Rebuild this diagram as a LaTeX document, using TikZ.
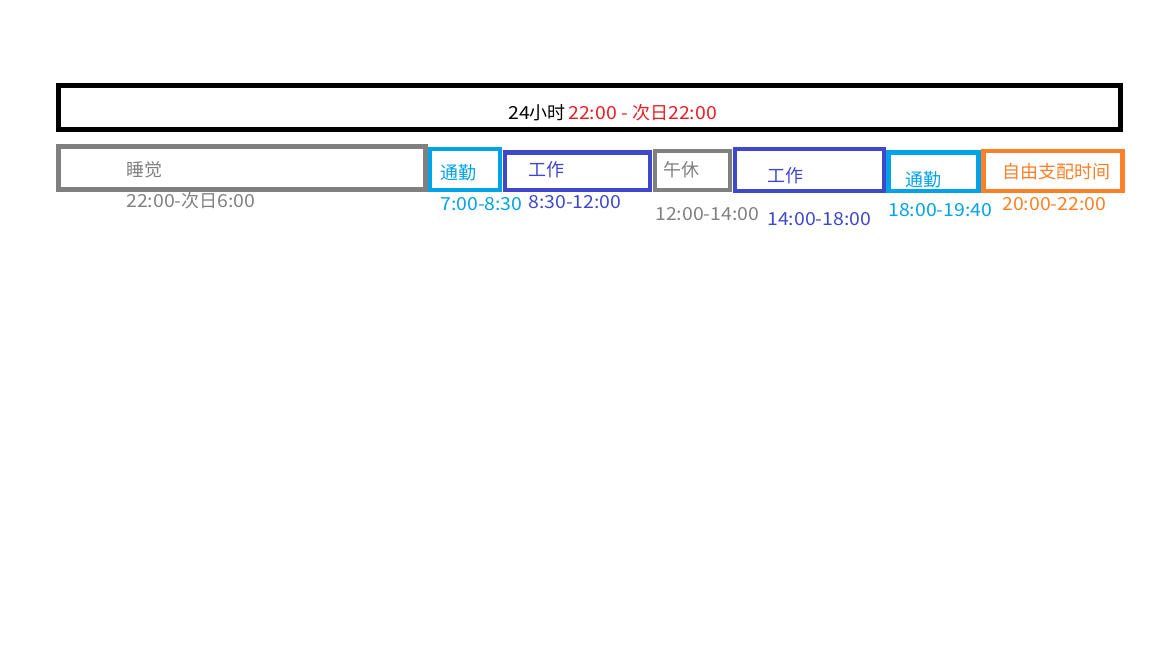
\documentclass[tikz,border=0pt]{standalone}
\usepackage{fontspec}
\setmainfont{Noto Sans CJK SC}
\newfontfamily\numfont{Noto Sans CJK SC}[FakeStretch=1.08]
\newcommand{\hm}[1]{{\numfont #1}}
\usetikzlibrary{positioning}
\definecolor{slpgray}{RGB}{128,128,128}
\definecolor{commcyan}{RGB}{0,162,232}
\definecolor{workblue}{RGB}{63,72,204}
\definecolor{freeorange}{RGB}{255,127,39}
\definecolor{titlered}{RGB}{237,28,36}

\begin{document}
\begin{tikzpicture}[
  x=0.75pt, y=-0.75pt,
  slot/.style={rectangle, draw=#1, line width=3.6pt, anchor=north west,
               inner sep=0pt, outer sep=0pt},
  lbl/.style={anchor=west, inner sep=0pt, font=\fontsize{13.5pt}{16pt}\selectfont, text=#1}
]
\useasboundingbox (0,0) rectangle (1152,648);

% ==================== WHOLE DAY ====================
\node[slot=black, line width=3.5pt, minimum width=1062.5*0.75pt, minimum height=44*0.75pt] (day) at (58.25,85.5) {};
\node[lbl=black] (daylbl) at (508,112.5) {\hm{24}小时\kern1.8pt\textcolor{titlered}{\hm{22:00 - }次日\hm{22:00}}};

% ==================== TIME SLOTS ====================
\node[slot=slpgray, minimum width=367*0.75pt, minimum height=43*0.75pt] (sleep) at (58.5,146.5) {};
\node[slot=commcyan, minimum width=70*0.75pt, minimum height=41*0.75pt] (comm1) at (430,149) {};
\node[slot=workblue, minimum width=145*0.75pt, minimum height=37.5*0.75pt] (work1) at (505,152.5) {};
\node[slot=slpgray, minimum width=75*0.75pt, minimum height=39*0.75pt] (nap) at (655,151) {};
\node[slot=workblue, minimum width=149*0.75pt, minimum height=42*0.75pt] (work2) at (735,149) {};
\node[slot=commcyan, minimum width=90*0.75pt, minimum height=38.5*0.75pt] (comm2) at (888.5,152.5) {};
\node[slot=freeorange, minimum width=139*0.75pt, minimum height=40*0.75pt] (free) at (983.5,151) {};

% ==================== LABELS ====================
\node[lbl=slpgray] (sleeplbl) at (126,170) {睡觉};
\node[lbl=slpgray] (sleeptime) at (126,201) {\hm{22:00-}次日\hm{6:00}};

\node[lbl=commcyan] (comm1lbl) at (440,173) {通勤};
\node[lbl=commcyan] (comm1time) at (440,204) {\hm{7:00-8:30}};

\node[lbl=workblue] (work1lbl) at (528,170) {工作};
\node[lbl=workblue] (work1time) at (528,202) {\hm{8:30-12:00}};

\node[lbl=slpgray] (naplbl) at (663,170) {午休};
\node[lbl=slpgray] (naptime) at (655,214) {\hm{12:00-14:00}};

\node[lbl=workblue] (work2lbl) at (767,176) {工作};
\node[lbl=workblue] (work2time) at (767,219) {\hm{14:00-18:00}};

\node[lbl=commcyan] (comm2lbl) at (905,180) {通勤};
\node[lbl=commcyan] (comm2time) at (888,210) {\hm{18:00-19:40}};

\node[lbl=freeorange] (freelbl) at (1002,172) {自由支配时间};
\node[lbl=freeorange] (freetime) at (1002,204) {\hm{20:00-22:00}};

\end{tikzpicture}
\end{document}
